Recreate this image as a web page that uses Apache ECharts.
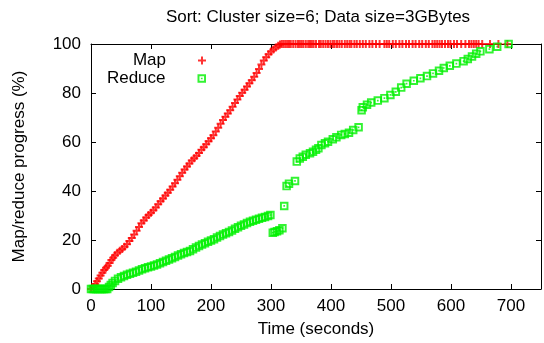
<!DOCTYPE html>
<html>
<head>
<meta charset="utf-8">
<script src="https://cdn.jsdelivr.net/npm/echarts@6/dist/echarts.min.js"></script>
<style>
  html, body { margin: 0; background: #fff; }
  #chart { width: 544px; height: 343px; }
</style>
</head>
<body>
<div id="chart"></div>
<script>
// Map progress (%) against time (s)
var mapTime = [0, 4, 7, 10, 13, 16, 19, 22, 25, 28, 31, 34, 37, 40, 44, 48, 52, 56, 60, 64, 68, 72, 76, 80, 84, 88, 92, 96,
  100, 104, 108, 112, 116, 120, 124, 128, 132, 136, 140, 144, 148, 152, 156, 160, 164, 168, 172, 176, 180, 184, 188, 192, 196,
  200, 204, 208, 212, 216, 220, 224, 228, 232, 236, 240, 244, 248, 252, 256, 260, 264, 268, 272, 276, 280, 284, 288, 292, 296,
  300, 304, 308, 312, 315,
  318, 321, 324, 327, 330, 333, 337, 341, 345, 348, 351, 354, 358, 362, 365, 368, 371, 375, 380, 383, 387, 391, 395, 399,
  403, 406, 410, 414, 418, 423, 427, 431, 434, 439, 443, 448, 453, 458, 464, 469, 475, 481, 489, 493, 497, 503, 508, 514,
  519, 525, 530, 536, 541, 547, 552, 558, 563, 569, 573, 577, 581, 585, 590, 595, 599, 605, 610, 617, 624, 630, 634, 638,
  642, 646, 652, 665, 679, 694];
var mapProgress = [0, 0.8, 2, 3.2, 4.3, 5.5, 6.6, 7.8, 8.7, 9.5, 10.6, 11.8, 12.8, 13.8, 14.8, 15.6, 16.3, 17.2, 18.3, 19.6,
  20.8, 22.2, 23.8, 25.3, 26.8, 28, 29.2, 30.2,
  31.1, 32.1, 33.3, 34.6, 35.8, 36.9, 38.2, 39.3, 40.5, 41.8, 43.2, 44.6, 46, 47.5, 48.8, 50, 51.2, 52.4, 53.4, 54.4, 55.5,
  56.8, 57.9, 59.1, 60.3,
  61.5, 62.8, 64.3, 65.8, 67.5, 69, 70.3, 71.6, 73, 74.4, 75.9, 77.3, 78.8, 80.1, 81.3, 82.7, 84, 85.2, 86.6, 88.2, 89.8,
  91.6, 93.3, 94.6, 95.8,
  96.9, 97.8, 98.6, 99.3, 99.8,
  100, 100, 100, 100, 100, 100, 100, 100, 100, 100, 100, 100, 100, 100, 100, 100, 100, 100, 100, 100, 100, 100, 100, 100,
  100, 100, 100, 100, 100, 100, 100, 100, 100, 100, 100, 100, 100, 100, 100, 100, 100, 100, 100, 100, 100, 100, 100, 100,
  100, 100, 100, 100, 100, 100, 100, 100, 100, 100, 100, 100, 100, 100, 100, 100, 100, 100, 100, 100, 100, 100, 100, 100,
  100, 100, 100, 100, 100, 100];

// Reduce progress (%) against time (s)
var reduceTime = [0, 3, 6, 9, 12, 15, 18, 21, 24, 27, 30, 33, 36, 40, 45, 50, 55, 60, 65, 70, 75, 80, 85, 90, 95,
  100, 105, 110, 115, 120, 125, 130, 135, 140, 145, 150, 155, 160, 165, 170, 175, 180, 185, 190, 195,
  200, 205, 210, 215, 220, 225, 230, 235, 240, 245, 250, 255, 260, 265, 270, 275, 280, 285, 290, 295, 299,
  303, 306, 310, 314, 319, 322, 326, 330, 340, 343, 348, 353, 358, 365, 370, 375, 379, 384, 390, 395,
  403, 409, 417, 423, 430, 437, 446, 451, 453, 460, 467, 478, 489, 499, 508, 517, 526, 538, 549, 560, 570,
  580, 588, 598, 609, 621, 628, 635, 642, 649, 664, 677, 696];
var reduceProgress = [0, 0, 0, 0, 0, 0, 0, 0, 0, 0, 0.8, 1.6, 2.5, 3.3, 4.2, 4.8, 5.3, 5.8, 6.2, 6.6, 7, 7.6, 8.1, 8.5, 8.9,
  9.2, 9.6, 10, 10.5, 11, 11.5, 12, 12.6, 13.1, 13.7, 14.2, 14.7, 15.1, 15.5, 16.2, 16.9, 17.6, 18.2, 18.7, 19.3,
  19.8, 20.3, 21, 21.6, 22.2, 22.8, 23.3, 23.9, 24.6, 25.2, 25.8, 26.3, 26.9, 27.4, 27.9, 28.3, 28.7, 29.1, 29.4, 29.8, 30.2,
  23, 23.3, 23.6, 24, 24.8, 33.9, 42, 43, 44.1, 52, 53.3, 54, 54.8, 55.4, 56, 56.8, 57.4, 58.8, 59.5, 60.1,
  61.1, 61.9, 62.9, 63.3, 63.8, 64.9, 66, 73, 74.2, 75.2, 76.1, 76.9, 77.9, 79.2, 80.5, 82.2, 83.8, 85, 86, 86.9, 88,
  89.1, 90.2, 91.1, 92, 93, 93.9, 94.9, 96, 97, 97.9, 98.9, 100];

var fontName = 'Liberation Sans';
var plusSymbol = 'path://M0,3H3V0H5V3H8V5H5V8H3V5H0Z';
var boxSymbol = 'path://M0,0H10V10H0Z M2.3,2.3V7.7H7.7V2.3Z M4,4H6V6H4Z';

function pairs(xs, ys) {
  return xs.map(function (x, i) { return [x, ys[i]]; });
}

function xAxisFor(pos, withLabels) {
  return {
    type: 'value', position: pos, min: 0, max: 750, interval: 100,
    name: withLabels ? 'Time (seconds)' : '',
    nameLocation: 'middle', nameGap: 32,
    nameTextStyle: { fontSize: 17, color: '#000', fontFamily: fontName },
    axisLine: { show: true, onZero: false, lineStyle: { color: '#000', width: 1 } },
    axisTick: { show: true, inside: true, length: 5, lineStyle: { color: '#000' } },
    axisLabel: {
      show: withLabels, fontSize: 17, color: '#000', fontFamily: fontName, margin: 9,
      formatter: function (v) { return v > 700 ? '' : v; }
    },
    splitLine: { show: false }
  };
}

function yAxisFor(pos, withLabels) {
  return {
    type: 'value', position: pos, min: 0, max: 100, interval: 20,
    name: withLabels ? 'Map/reduce progress (%)' : '',
    nameLocation: 'middle', nameGap: 63, nameRotate: 90,
    nameTextStyle: { fontSize: 17, color: '#000', fontFamily: fontName },
    axisLine: { show: true, onZero: false, lineStyle: { color: '#000', width: 1 } },
    axisTick: { show: true, inside: true, length: 5, lineStyle: { color: '#000' } },
    axisLabel: { show: withLabels, fontSize: 17, color: '#000', fontFamily: fontName, margin: 10 },
    splitLine: { show: false }
  };
}

var chart = echarts.init(document.getElementById('chart'));
var option = {
  animation: false,
  backgroundColor: '#fff',
  title: {
    text: 'Sort: Cluster size=6; Data size=3GBytes',
    left: 318, top: 9, textAlign: 'center', padding: 0,
    textStyle: { fontSize: 17, fontWeight: 'normal', color: '#000', fontFamily: fontName }
  },
  grid: { left: 91, top: 44, width: 453.5, height: 245 },
  legend: [{
    data: ['Map'], orient: 'vertical', align: 'right', right: 338, top: 52, padding: 0,
    itemWidth: 8, itemHeight: 8,
    textStyle: { fontSize: 17, color: '#000', fontFamily: fontName, padding: [0, 27, 0, 0] }
  }, {
    data: ['Reduce'], orient: 'vertical', align: 'right', right: 338, top: 70, padding: 0,
    itemWidth: 8.5, itemHeight: 8.5,
    textStyle: { fontSize: 17, color: '#000', fontFamily: fontName, padding: [0, 27, 0, 0] }
  }],
  xAxis: [xAxisFor('bottom', true), xAxisFor('top', false)],
  yAxis: [yAxisFor('left', true), yAxisFor('right', false)],
  series: [{
    name: 'Map',
    type: 'scatter',
    symbol: plusSymbol,
    symbolSize: 8,
    clip: false,
    itemStyle: { color: '#ff0000' },
    data: pairs(mapTime, mapProgress)
  }, {
    name: 'Reduce',
    type: 'scatter',
    symbol: boxSymbol,
    symbolSize: 8.5,
    clip: false,
    itemStyle: { color: '#00f000' },
    data: pairs(reduceTime, reduceProgress)
  }]
};
chart.setOption(option);
</script>
</body>
</html>
